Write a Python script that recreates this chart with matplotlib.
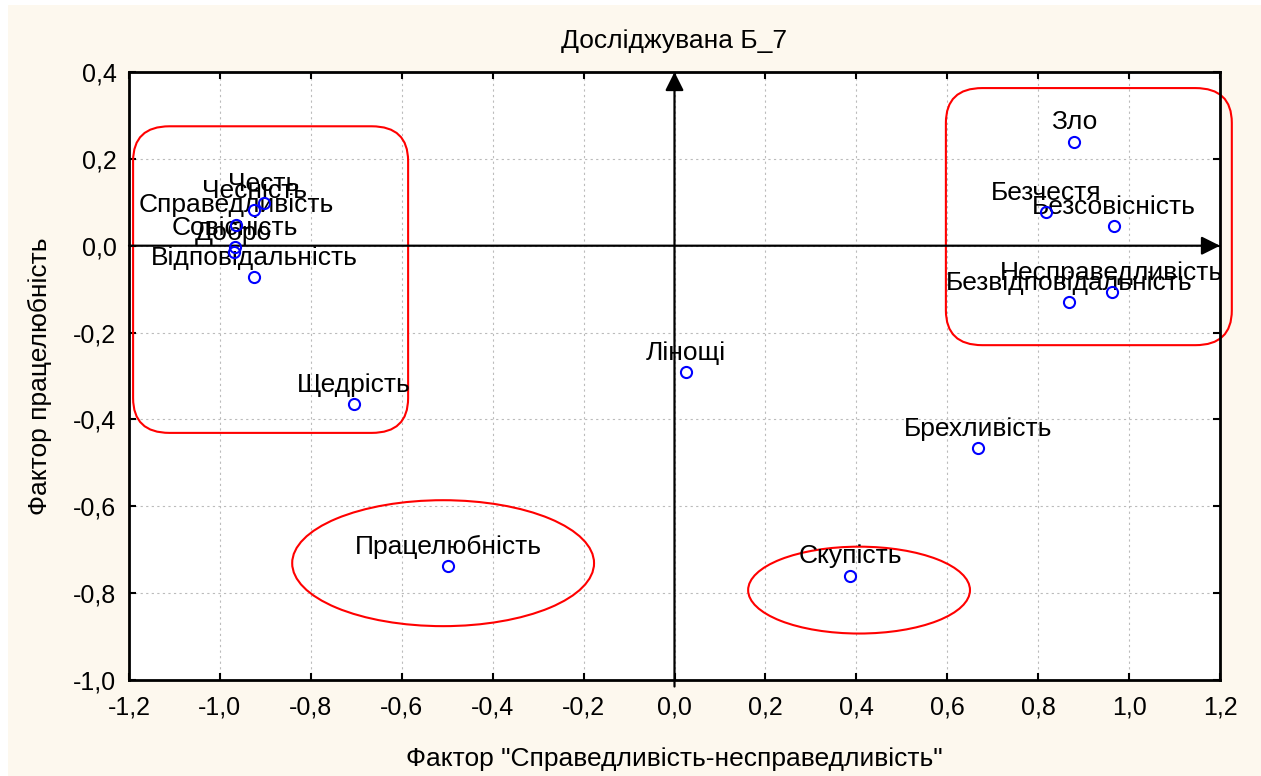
import numpy as np
import matplotlib
matplotlib.use("Agg")
from matplotlib import pyplot as plt
from matplotlib.patches import FancyBboxPatch, Ellipse, Rectangle
from matplotlib.ticker import MultipleLocator, FuncFormatter
from matplotlib.transforms import offset_copy

plt.rcParams['font.family'] = ['Liberation Sans', 'DejaVu Sans']

# factor scores
labels = ["Честь", "Чесність", "Справедливість", "Совісність", "Добро",
          "Відповідальність", "Щедрість", "Працелюбність", "Лінощі",
          "Скупість", "Брехливість", "Зло", "Безчестя", "Безсовісність",
          "Несправедливість", "Безвідповідальність"]
x_vals = [-0.903, -0.925, -0.965, -0.967, -0.970, -0.925, -0.705, -0.498,
          0.025, 0.386, 0.668, 0.879, 0.817, 0.967, 0.962, 0.868]
y_vals = [0.098, 0.082, 0.048, -0.003, -0.015, -0.072, -0.365, -0.738,
          -0.291, -0.760, -0.466, 0.239, 0.077, 0.045, -0.107, -0.130]

# groups: (x0, y0, width, height)
boxes = [(-1.191, -0.431, 0.605, 0.706), (0.597, -0.229, 0.629, 0.592)]
# ellipses: (cx, cy, width, height)
ellipses = [(-0.509, -0.731, 0.664, 0.290), (0.406, -0.793, 0.488, 0.200)]

title = "Досліджувана Б_7"
xlabel = 'Фактор "Справедливість-несправедливість"'
ylabel = "Фактор працелюбність"

fig = plt.figure(figsize=(12.61, 7.76), dpi=100, facecolor='white')
fig.patches.append(Rectangle((8 / 1261, 0), 1, 1 - 5 / 776, transform=fig.transFigure,
                             facecolor='#fdf8ee', edgecolor='none', zorder=-10))
ax = fig.add_axes([129 / 1261, 1 - 680 / 776, (1220 - 129) / 1261, (680 - 72) / 776])
ax.set_facecolor('white')

ax.set_xlim(-1.2, 1.2)
ax.set_ylim(-1.0, 0.4)
ax.xaxis.set_major_locator(MultipleLocator(0.2))
ax.yaxis.set_major_locator(MultipleLocator(0.2))
fmt = FuncFormatter(lambda v, p: f"{v:.1f}".replace('.', ',').replace('-0,0', '0,0'))
ax.xaxis.set_major_formatter(fmt)
ax.yaxis.set_major_formatter(fmt)
ax.tick_params(direction='in', length=5, width=1.5, top=True, right=True,
               labelsize=18)
ax.tick_params(axis='x', pad=11)
ax.tick_params(axis='y', pad=9)
for s in ax.spines.values():
    s.set_linewidth(2)
ax.grid(True, linestyle=(0, (2, 3)), color='#bbbbbb', linewidth=0.8)
ax.set_axisbelow(True)

# axis arrows through the origin
ax.annotate('', xy=(0, 0.4), xytext=(0, -1.015), annotation_clip=False,
            arrowprops=dict(arrowstyle='-|>', color='black', lw=1.6,
                            mutation_scale=28, shrinkA=0, shrinkB=0))
ax.annotate('', xy=(1.2, 0), xytext=(-1.2, 0), annotation_clip=False,
            arrowprops=dict(arrowstyle='-|>', color='black', lw=1.6,
                            mutation_scale=28, shrinkA=0, shrinkB=0))

for (x0, y0, w, h) in boxes:
    ax.add_patch(FancyBboxPatch((x0, y0), w, h, boxstyle="round,pad=0,rounding_size=0.08",
                                fill=False, edgecolor='red', linewidth=1.5, clip_on=False))
for (cx, cy, w, h) in ellipses:
    ax.add_patch(Ellipse((cx, cy), w, h, fill=False, edgecolor='red', linewidth=1.5))

ax.plot(x_vals, y_vals, 'o', markerfacecolor='none', markeredgecolor='#0000ff',
        markersize=8, markeredgewidth=1.5, zorder=5)
lab_tr = offset_copy(ax.transData, fig=fig, x=0, y=14, units='points')
for lab, xv, yv in zip(labels, x_vals, y_vals):
    t = ax.text(xv, yv, lab, transform=lab_tr, ha='center', va='center',
                fontsize=19, clip_on=True)
    t.set_clip_box(ax.bbox)

ax.set_title(title, fontsize=19, pad=17)
ax.set_xlabel(xlabel, fontsize=19, labelpad=20)
ax.set_ylabel(ylabel, fontsize=19, labelpad=15)

fig.savefig("out.png", dpi=100, facecolor=fig.get_facecolor())
